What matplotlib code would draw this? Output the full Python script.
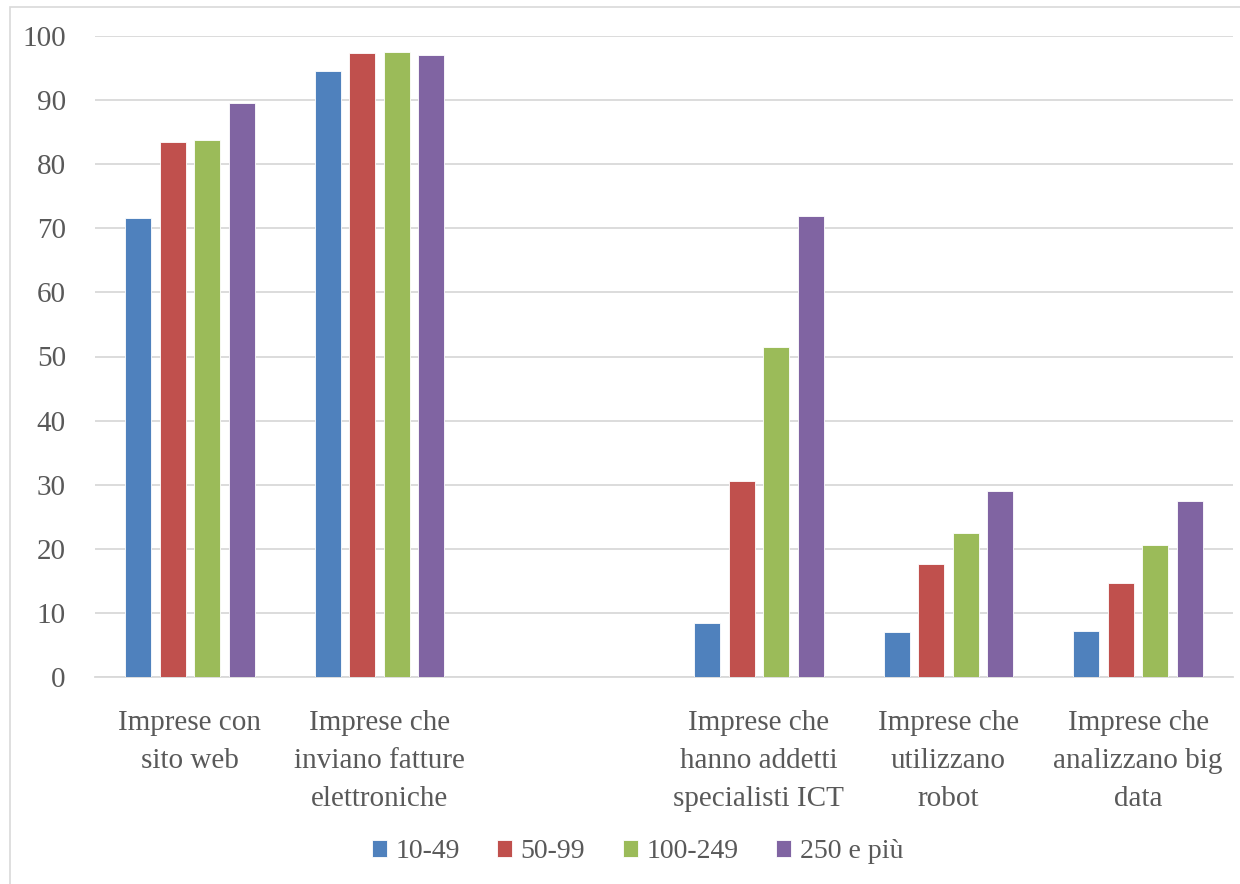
import numpy as np
import matplotlib
matplotlib.use("Agg")
import matplotlib.pyplot as plt
from matplotlib.patches import Rectangle

# categories (third slot is empty in the original chart)
categories = [
    "Imprese con\nsito web",
    "Imprese che\ninviano fatture\nelettroniche",
    "",
    "Imprese che\nhanno addetti\nspecialisti ICT",
    "Imprese che\nutilizzano\nrobot",
    "Imprese che\nanalizzano big\ndata",
]
series_names = ["10-49", "50-99", "100-249", "250 e più"]
v_10_49 = [71.6, 94.5, np.nan, 8.4, 7.0, 7.2]
v_50_99 = [83.5, 97.3, np.nan, 30.6, 17.6, 14.7]
v_100_249 = [83.8, 97.5, np.nan, 51.5, 22.5, 20.6]
v_250 = [89.5, 97.0, np.nan, 71.9, 29.0, 27.5]
yticks = [0, 10, 20, 30, 40, 50, 60, 70, 80, 90, 100]

colors = ["#4f81bd", "#c0504d", "#9bbb59", "#8064a2"]
text_col = "#595959"
grid_col = "#d9d9d9"

plt.rcParams["font.family"] = ["Liberation Serif", "DejaVu Serif"]

fig = plt.figure(figsize=(12.4, 8.84), dpi=100)
ax = fig.add_axes([95 / 1240, 1 - 677 / 884, 1138 / 1240, 641 / 884])

# outer chart border
fig.patches.append(Rectangle((10 / 1240, -0.05), 1.2, 1 - 7 / 884 + 0.05,
                             transform=fig.transFigure, fill=False,
                             edgecolor=grid_col, linewidth=1.2))

x = np.arange(len(categories))
step = 0.182
width = 0.137
all_values = [v_10_49, v_50_99, v_100_249, v_250]
for i, (vals, name) in enumerate(zip(all_values, series_names)):
    ax.bar(x + (i - 1.5) * step, vals, width, color=colors[i], label=name,
           edgecolor="white", linewidth=0.6, zorder=3)

ax.set_xlim(-0.5, len(categories) - 0.5)
ax.set_ylim(0, 100)
ax.set_yticks(yticks)
ax.set_xticks(x)
ax.set_xticklabels(categories, linespacing=1.58)
ax.tick_params(axis="both", length=0, colors=text_col, labelsize=21)
ax.tick_params(axis="x", pad=24)
ax.tick_params(axis="y", pad=21)

ax.grid(axis="y", color=grid_col, linewidth=1.3, zorder=0)
for side in ["top", "right", "left"]:
    ax.spines[side].set_visible(False)
ax.spines["bottom"].set_color(grid_col)
ax.spines["bottom"].set_linewidth(1.3)

leg = fig.legend(loc="center", bbox_to_anchor=(0.514, 1 - 852 / 884), ncol=4,
                 frameon=False, fontsize=20, handlelength=0.55, handleheight=0.55,
                 handletextpad=0.3, columnspacing=1.35)
for t in leg.get_texts():
    t.set_color(text_col)

fig.savefig("out.png", dpi=100)
